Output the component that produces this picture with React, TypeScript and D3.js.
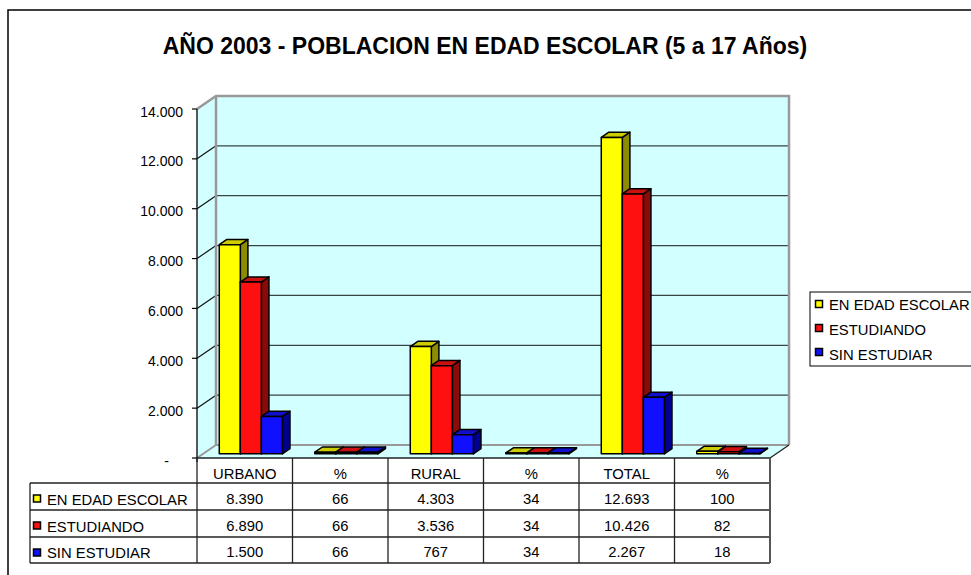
import { scaleBand, scaleLinear, formatLocale } from "d3";

// chart data
const categories = ["URBANO", "%", "RURAL", "%", "TOTAL", "%"];
const seriesNames = ["EN EDAD ESCOLAR", "ESTUDIANDO", "SIN ESTUDIAR"];
const enEdadEscolar = [8390, 66, 4303, 34, 12693, 100];
const estudiando = [6890, 66, 3536, 34, 10426, 82];
const sinEstudiar = [1500, 66, 767, 34, 2267, 18];
const yTicks = [0, 2000, 4000, 6000, 8000, 10000, 12000, 14000];

const seriesValues = [enEdadEscolar, estudiando, sinEstudiar];
const seriesColors = [
  { front: "#ffff00", top: "#cccc00", side: "#8c8c00" },
  { front: "#ff1010", top: "#cc1010", side: "#8b0a0a" },
  { front: "#1010ff", top: "#1010cc", side: "#000090" },
];

const width = 971;
const height = 575;
const font = "'Liberation Sans', Arial, sans-serif";

// plot geometry (front plane)
const plotLeft = 197;
const plotRight = 770;
const plotBottom = 458;
const plotTop = 109;
const depthX = 19;
const depthY = 13;
const barFront = 0.32; // where bars start in depth
const barDepth = 0.4;

const wallColor = "#d2ffff";
const wallEdge = "#999999";

const rowHeights = [458, 483, 510, 537, 563];
const tableLeft = 30;
const labelSize = 14.8;

const fmt = formatLocale({
  decimal: ",",
  thousands: ".",
  grouping: [3],
  currency: ["$", ""],
}).format(",d");

const App = () => {
  const xScale = scaleBand<number>()
    .domain(categories.map((_, i) => i))
    .range([plotLeft, plotRight]);

  const xSub = scaleBand<number>()
    .domain(seriesNames.map((_, i) => i))
    .range([0, xScale.bandwidth()])
    .paddingInner(0)
    .paddingOuter(0.77);

  const yScale = scaleLinear().domain([0, 14000]).range([plotBottom, plotTop]);

  const backL = plotLeft + depthX;
  const backR = plotRight + depthX;
  const backTop = yScale(14000) - depthY;
  const backBottom = plotBottom - depthY;

  const fx = barFront * depthX;
  const fy = barFront * depthY;
  const ddx = barDepth * depthX;
  const ddy = barDepth * depthY;

  return (
    <svg
      width={width}
      height={height}
      style={{ position: "absolute", left: 0, top: 0, background: "#fff" }}
      fontFamily={font}
    >
      {/* outer frame */}
      <rect x={8} y={10} width={1000} height={600} fill="#fff" stroke="#000" strokeWidth={1.5} />

      <text x={485} y={54} textAnchor="middle" fontSize={23} fontWeight="bold">
        AÑO 2003 - POBLACION EN EDAD ESCOLAR (5 a 17 Años)
      </text>

      {/* walls */}
      <polygon
        points={`${backL},${backTop} ${backR},${backTop} ${backR},${backBottom} ${backL},${backBottom}`}
        fill={wallColor}
      />
      <polygon
        points={`${plotLeft},${yScale(14000)} ${backL},${backTop} ${backL},${backBottom} ${plotLeft},${plotBottom}`}
        fill={wallColor}
      />
      <polygon
        points={`${plotLeft},${plotBottom} ${plotRight},${plotBottom} ${backR},${backBottom} ${backL},${backBottom}`}
        fill={wallColor}
      />

      {/* gridlines */}
      {yTicks
        .filter((t) => t > 0 && t < 14000)
        .map((t) => (
          <g key={t}>
            <line x1={backL} x2={backR} y1={yScale(t) - depthY} y2={yScale(t) - depthY} stroke="#3a4444" strokeWidth={1.3} />
            <line x1={plotLeft} x2={backL} y1={yScale(t)} y2={yScale(t) - depthY} stroke="#111" strokeWidth={1.2} />
          </g>
        ))}

      {/* wall edges */}
      <polyline
        points={`${plotLeft},${yScale(14000)} ${backL},${backTop} ${backR},${backTop} ${backR},${backBottom}`}
        fill="none"
        stroke={wallEdge}
        strokeWidth={2.5}
      />
      <line x1={backL} x2={backL} y1={backTop} y2={backBottom} stroke={wallEdge} strokeWidth={2.5} />
      <polyline
        points={`${plotLeft},${plotBottom} ${backL},${backBottom} ${backR},${backBottom}`}
        fill="none"
        stroke={wallEdge}
        strokeWidth={2}
      />
      <line x1={plotRight} x2={backR} y1={plotBottom} y2={backBottom} stroke="#222" strokeWidth={1.3} />

      {/* y axis */}
      <line x1={plotLeft} x2={plotLeft} y1={yScale(14000)} y2={plotBottom + 4} stroke="#000" strokeWidth={1.3} />
      {yTicks.map((t) => (
        <g key={t}>
          <line x1={plotLeft - 5} x2={plotLeft} y1={yScale(t)} y2={yScale(t)} stroke="#000" strokeWidth={1.2} />
          <text
            x={t === 0 ? plotLeft - 28 : plotLeft - 14}
            y={yScale(t) + 7.5}
            textAnchor="end"
            fontSize={14}
          >
            {t === 0 ? "-" : fmt(t)}
          </text>
        </g>
      ))}

      {/* bars */}
      {categories.map((_, i) =>
        seriesValues.map((vals, s) => {
          const c = seriesColors[s];
          const x = (xScale(i) as number) + (xSub(s) as number) + fx;
          const w = xSub.bandwidth();
          const yb = plotBottom - fy;
          const yt = yScale(vals[i]) - fy;
          return (
            <g key={`${i}-${s}`} stroke="#000" strokeWidth={1.5} strokeLinejoin="round">
              <polygon
                points={`${x + w},${yt} ${x + w + ddx},${yt - ddy} ${x + w + ddx},${yb - ddy} ${x + w},${yb}`}
                fill={c.side}
              />
              <polygon
                points={`${x},${yt} ${x + w},${yt} ${x + w + ddx},${yt - ddy} ${x + ddx},${yt - ddy}`}
                fill={c.top}
              />
              <rect x={x} y={yt} width={w} height={yb - yt} fill={c.front} />
            </g>
          );
        })
      )}

      {/* data table */}
      <g stroke="#222" strokeWidth={1.3}>
        <line x1={plotLeft} x2={plotRight} y1={rowHeights[0]} y2={rowHeights[0]} />
        {rowHeights.slice(1).map((y) => (
          <line key={y} x1={tableLeft} x2={plotRight} y1={y} y2={y} />
        ))}
        <line x1={tableLeft} x2={tableLeft} y1={rowHeights[1]} y2={rowHeights[4]} />
        {categories.map((_, i) => (
          <line key={i} x1={xScale(i)} x2={xScale(i)} y1={rowHeights[0]} y2={rowHeights[4]} />
        ))}
        <line x1={plotRight} x2={plotRight} y1={rowHeights[0]} y2={rowHeights[4]} stroke="#555" strokeWidth={2} />
      </g>
      {categories.map((c, i) => (
        <text
          key={`h${i}`}
          x={(xScale(i) as number) + xScale.bandwidth() / 2}
          y={rowHeights[1] - 4.5}
          textAnchor="middle"
          fontSize={labelSize}
        >
          {c}
        </text>
      ))}
      {seriesValues.map((vals, s) => (
        <g key={`r${s}`}>
          <rect
            x={tableLeft + 3.5}
            y={rowHeights[s + 1] + 12}
            width={7}
            height={7}
            fill={seriesColors[s].front}
            stroke="#000"
            strokeWidth={1.5}
          />
          <text x={tableLeft + 17} y={rowHeights[s + 2] - 5} fontSize={labelSize}>
            {seriesNames[s]}
          </text>
          {vals.map((v, i) => (
            <text
              key={i}
              x={(xScale(i) as number) + xScale.bandwidth() / 2}
              y={rowHeights[s + 2] - 6}
              textAnchor="middle"
              fontSize={labelSize}
            >
              {fmt(v)}
            </text>
          ))}
        </g>
      ))}

      {/* legend */}
      <rect x={810} y={292} width={200} height={74} fill="#fff" stroke="#000" strokeWidth={1} />
      {seriesNames.map((n, s) => (
        <g key={n}>
          <rect
            x={815.5}
            y={300.5 + s * 24}
            width={7}
            height={7}
            fill={seriesColors[s].front}
            stroke="#000"
            strokeWidth={1.5}
          />
          <text x={829} y={310 + s * 25} fontSize={labelSize}>
            {n}
          </text>
        </g>
      ))}
    </svg>
  );
};

export default App;
